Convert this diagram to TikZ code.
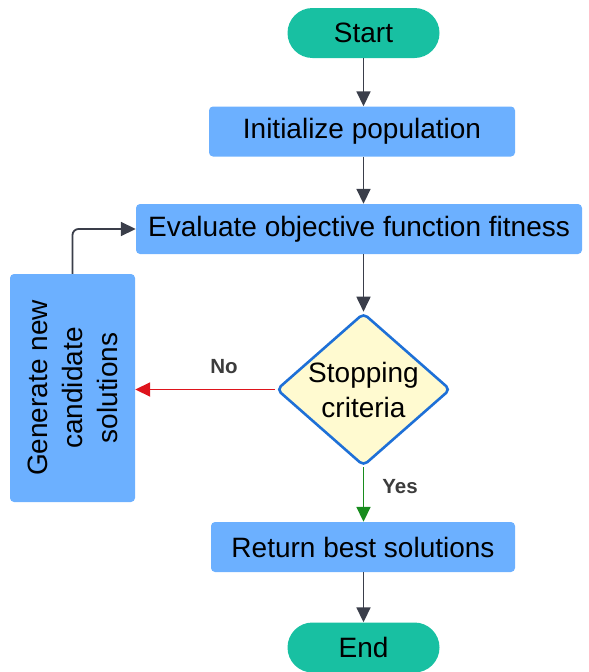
\documentclass[tikz,border=0pt]{standalone}
\usepackage{fontspec}
\setmainfont{Liberation Sans}
\usetikzlibrary{shapes.geometric,shapes.misc,arrows.meta}
\definecolor{teal1}{RGB}{24,192,162}
\definecolor{boxblue}{RGB}{108,176,255}
\definecolor{dfill}{RGB}{255,250,208}
\definecolor{dline}{RGB}{30,112,215}
\definecolor{arr}{RGB}{58,62,74}
\definecolor{redarr}{RGB}{222,20,28}
\definecolor{greenarr}{RGB}{24,140,30}
\definecolor{lbl}{RGB}{60,60,60}
\tikzset{
  term/.style={rounded rectangle, fill=teal1, draw=none, minimum width=152pt, minimum height=50pt, font=\fontsize{28}{32}\selectfont, inner sep=0pt},
  proc/.style={rectangle, rounded corners=4pt, fill=boxblue, draw=none, minimum height=50pt, font=\fontsize{28}{32}\selectfont, inner sep=0pt},
  dec/.style={diamond, fill=dfill, draw=dline, line width=2.6pt, rounded corners=5pt, minimum width=174pt, minimum height=153pt, inner sep=0pt},
  conn/.style={draw=arr, line width=1.8pt, -{Triangle[length=15pt,width=14pt]}},
  lab/.style={font=\bfseries\fontsize{20.5}{24}\selectfont, text=lbl}
}
\begin{document}
\begin{tikzpicture}[x=1pt,y=-1pt]
\useasboundingbox (0,0) rectangle (589,672);
\node[term] (start) at (363.5,33) {Start};
\node[proc, minimum width=306pt] (init) at (362,131.5) {Initialize population};
\node[proc, minimum width=446pt] (eval) at (359,229) {Evaluate objective function fitness};
\node[dec] (stop) at (363.5,389.5) {};
\node[align=center, font=\fontsize{28}{35}\selectfont] (stoptext) at (stop.center) {Stopping\\criteria};
\node[proc, minimum width=304pt] (ret) at (363,547) {Return best solutions};
\node[term] (end) at (363.5,647.5) {End};
\node[rectangle, rounded corners=4pt, fill=boxblue, minimum width=125pt, minimum height=228pt, inner sep=0pt] (gen) at (72.5,388) {};
\node[rotate=90, align=center, font=\fontsize{28}{35}\selectfont] (gentext) at (gen.center) {Generate new\\candidate\\solutions};
\draw[conn] (start.south) -- (start.south |- init.north);
\draw[conn] (start.south |- init.south) -- (start.south |- eval.north);
\draw[conn] (stop.north |- eval.south) -- (stop.north);
\draw[conn, draw=greenarr, fill=greenarr] (stop.south) -- (stop.south |- ret.north);
\draw[conn, draw=redarr] (stop.west) -- (gen.east |- stop.west);
\draw[conn] (stop.south |- ret.south) -- (stop.south |- end.north);
\draw[conn, rounded corners=6pt] (gen.north) |- (eval.west);
\node[lab] (no) at (224,367) {No};
\node[lab] (yes) at (400,487) {Yes};
\end{tikzpicture}
\end{document}
